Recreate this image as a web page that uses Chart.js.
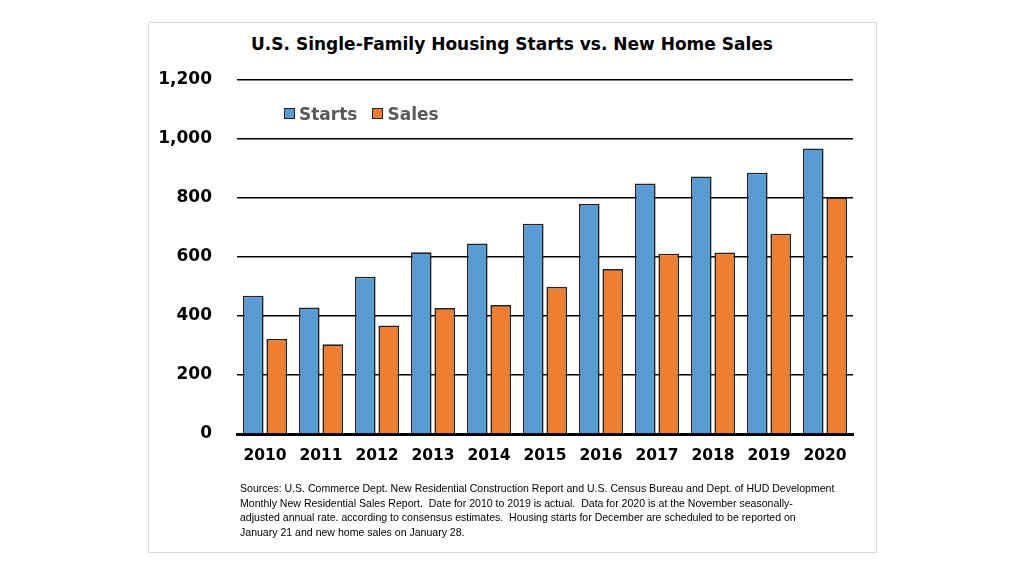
<!DOCTYPE html>
<html>
<head>
<meta charset="utf-8">
<script src="https://cdn.jsdelivr.net/npm/chart.js@4/dist/chart.umd.min.js"></script>
<style>
  html, body { margin: 0; padding: 0; background: #fff; }
  body { width: 1024px; height: 576px; position: relative; overflow: hidden; }
  #frame { position: absolute; left: 148px; top: 22px; width: 727px; height: 529px; border: 1px solid #d9d9d9; }
  #title { position: absolute; left: 148px; width: 728px; top: 34px; text-align: center; font: bold 17px "DejaVu Sans", sans-serif; line-height: 21px; color: #000; }
  #wrap { position: absolute; left: 148px; top: 22px; width: 728px; height: 460px; }
  #legend { position: absolute; left: 284px; top: 104px; font: bold 17px "DejaVu Sans", sans-serif; color: #595959; white-space: nowrap; }
  #legend span.box { display: inline-block; width: 9px; height: 9px; border: 1.5px solid #222; margin-right: 4px; vertical-align: 1px; }
  #legend span.item { margin-right: 15px; }
  #note { position: absolute; left: 240px; top: 481px; font: 11.5px "Liberation Sans Narrow", "Liberation Sans", sans-serif; line-height: 14.5px; color: #000; white-space: nowrap; transform: scaleX(0.917); transform-origin: 0 0; }
</style>
</head>
<body>
<div id="frame"></div>
<div id="title">U.S. Single-Family Housing Starts vs. New Home Sales</div>
<div id="wrap"><canvas id="chart"></canvas></div>
<div id="legend"></div>
<div id="note">
Sources: U.S. Commerce Dept. New Residential Construction Report and U.S. Census Bureau and Dept. of HUD Development<br>
Monthly New Residential Sales Report.&nbsp; Date for 2010 to 2019 is actual.&nbsp; Data for 2020 is at the November seasonally-<br>
adjusted annual rate. according to consensus estimates.&nbsp; Housing starts for December are scheduled to be reported on<br>
January 21 and new home sales on January 28.
</div>
<script>
// values in thousands of units
const years = ['2010', '2011', '2012', '2013', '2014', '2015', '2016', '2017', '2018', '2019', '2020'];
const starts = [469, 429, 533, 616, 646, 713, 780, 849, 873, 886, 968];
const sales = [322, 304, 368, 427, 437, 499, 559, 611, 615, 679, 802];
const seriesNames = ['Starts', 'Sales'];
const seriesColors = ['#5b9bd5', '#ed7d31'];

const legend = document.getElementById('legend');
seriesNames.forEach(function (name, i) {
    legend.innerHTML += '<span class="item"><span class="box" style="background:' + seriesColors[i] + '"></span>' + name + '</span>';
});

const ctx = document.getElementById('chart').getContext('2d');
const housingChart = new Chart(ctx, {
    type: 'bar',
    data: {
        labels: years,
        datasets: [
            {
                label: seriesNames[0],
                data: starts,
                backgroundColor: seriesColors[0],
                borderColor: '#222',
                borderWidth: 1.6,
                categoryPercentage: 0.84,
                barPercentage: 0.88,
            },
            {
                label: seriesNames[1],
                data: sales,
                backgroundColor: seriesColors[1],
                borderColor: '#222',
                borderWidth: 1.6,
                categoryPercentage: 0.84,
                barPercentage: 0.88,
            },
        ],
    },
    options: {
        responsive: true,
        maintainAspectRatio: false,
        animation: false,
        layout: { padding: { left: 0, right: 23, top: 58, bottom: 0 } },
        plugins: {
            legend: { display: false },
            tooltip: { enabled: false },
        },
        scales: {
            x: {
                grid: { display: false, drawTicks: false },
                border: { display: true, color: '#000', width: 3 },
                ticks: {
                    color: '#000',
                    padding: 13,
                    font: { family: 'DejaVu Sans', size: 15.5, weight: 'bold' },
                },
                afterFit: function (scale) { scale.height = 48; },
            },
            y: {
                min: 0,
                max: 1200,
                grid: { color: '#000', lineWidth: 1.4, drawTicks: false },
                border: { display: false },
                ticks: {
                    stepSize: 200,
                    color: '#000',
                    padding: 25,
                    font: { family: 'DejaVu Sans', size: 17, weight: 'bold' },
                    callback: function (v) { return v.toLocaleString('en-US'); },
                },
                afterFit: function (scale) { scale.width = 89; },
            },
        },
    },
});
</script>
</body>
</html>
